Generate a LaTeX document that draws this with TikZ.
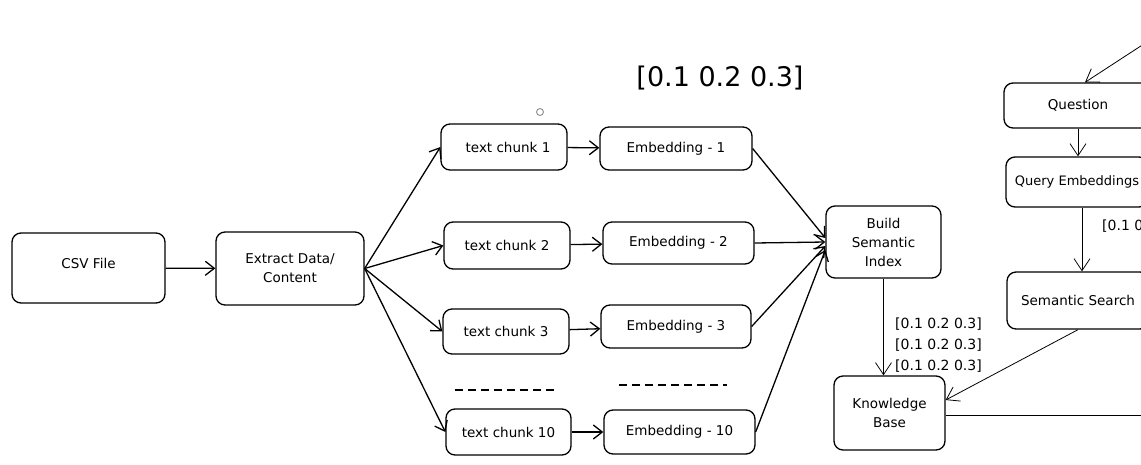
\documentclass[tikz,border=0pt]{standalone}
\usepackage{fontspec}
\setmainfont{DejaVu Sans}
\usetikzlibrary{arrows.meta, positioning}

\begin{document}
\begin{tikzpicture}[
    x=1pt, y=-1pt,
    box/.style={rectangle, draw, rounded corners=9pt, line width=1.3pt, align=center, inner sep=0pt, font=\fontsize{13.5}{19}\selectfont},
    flow/.style={-{Straight Barb[length=9pt, width=14pt]}, line width=1.3pt},
    thinflow/.style={-{Straight Barb[length=12pt, width=16pt]}, line width=0.8pt},
    vec/.style={font=\fontsize{14}{21}\selectfont, inner sep=0pt, align=left}
]
\clip (0,0) rectangle (1141,464);
\useasboundingbox (0,0) rectangle (1141,464);

% Input side
\node[box, minimum width=153pt, minimum height=70pt] (csv) at (88.5,268) {\raisebox{9pt}{CSV File}};
\node[box, minimum width=148pt, minimum height=73pt] (extract) at (290,268.5) {Extract Data/\\Content};

% Chunks and embeddings
\node[box, minimum width=126pt, minimum height=46pt] (chunk1) at (504,147) {\hspace{8pt}text chunk 1};
\node[box, minimum width=152pt, minimum height=43pt] (emb1) at (676,148.5) {Embedding - 1};
\node[box, minimum width=126pt, minimum height=47pt] (chunk2) at (507,245.5) {text chunk 2};
\node[box, minimum width=151pt, minimum height=42pt] (emb2) at (678.5,243) {Embedding - 2};
\node[box, minimum width=126pt, minimum height=45pt] (chunk3) at (506,331.5) {text chunk 3};
\node[box, minimum width=150pt, minimum height=43pt] (emb3) at (676,326.5) {Embedding - 3};
\node[box, minimum width=125pt, minimum height=46pt] (chunk10) at (508.5,432) {text chunk 10};
\node[box, minimum width=151pt, minimum height=44pt] (emb10) at (679.5,432) {Embedding - 10};

% Index and knowledge base
\node[box, minimum width=115pt, minimum height=72pt] (build) at (883.5,242) {Build\\Semantic\\Index};
\node[box, minimum width=111pt, minimum height=74pt] (kb) at (889.5,413) {Knowledge\\Base};

% Query side
\node[box, minimum width=148pt, minimum height=45pt] (question) at (1078,105.5) {Question};
\node[box, minimum width=142pt, minimum height=50pt, font=\fontsize{13}{19}\selectfont] (query) at (1077,182) {Query Embeddings};
\node[box, minimum width=142pt, minimum height=57pt] (search) at (1078,300.5) {Semantic Search};

% Vector labels
\node[font=\fontsize{27}{32}\selectfont] (bigvec) at (720,78) {[0.1 0.2 0.3]};
\node[vec, anchor=north west] (vecs) at (895,318) {{[0.1 0.2 0.3]}\\{[0.1 0.2 0.3]}\\{[0.1 0.2 0.3]}};
\node[vec, anchor=west] (qvec) at (1102,226) {[0.1 0.2 0.3]};

% Free ends
\coordinate (qin) at (1150,40);
\coordinate (kbout) at (1150,415);

% Flows
\draw[flow] (csv) -- (extract);
\draw[flow] (extract.east) -- (chunk1.west);
\draw[flow] (extract.east) -- (chunk2.west);
\draw[flow] (extract.east) -- (chunk3.west);
\draw[flow] (extract.east) -- (chunk10.west);

\draw[flow] (chunk1) -- (emb1);
\draw[flow] (chunk2) -- (emb2);
\draw[flow] (chunk3) -- (emb3);
\draw[flow] (chunk10) -- (emb10);

\draw[flow] (emb1.east) -- ([yshift=4pt]build.west);
\draw[flow] (emb2.east) -- (build.west);
\draw[flow] (emb3.east) -- ([yshift=-4pt]build.west);
\draw[flow] (emb10.east) -- ([yshift=-8pt]build.west);

\draw[thinflow] (build.south) -- (build.south |- kb.north);
\draw[thinflow] (search.south) -- ([yshift=13pt]kb.east);
\draw[line width=0.9pt] ([yshift=-2pt]kb.east) -- (kbout);

\draw[thinflow] (qin) -- ([xshift=7pt]question.north);
\draw[thinflow] (question.south) -- (question.south |- query.north);
\draw[thinflow] ([xshift=5pt]query.south) -- ([xshift=5pt]query.south |- search.north);

% Ellipsis dashes and stray mark
\draw[line width=1.2pt, dash pattern=on 8pt off 5pt] (455,390) -- (558,390);
\draw[line width=1.2pt, dash pattern=on 8pt off 5pt] (619,385) -- (727,385);
\draw[gray, line width=0.8pt] (540,112) circle (3.5pt);

\end{tikzpicture}
\end{document}
